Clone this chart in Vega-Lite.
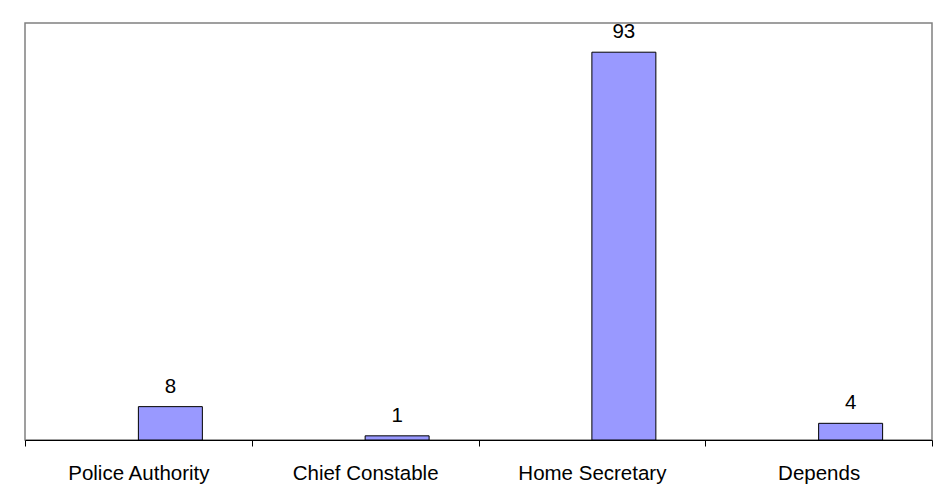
{
  "$schema": "https://vega.github.io/schema/vega-lite/v6.json",
  "width": 907,
  "height": 417,
  "autosize": "none",
  "padding": {"left": 25, "top": 23, "right": 7, "bottom": 64},
  "background": "white",
  "config": {
    "view": {"stroke": "#808080", "strokeWidth": 1.5},
    "font": "Liberation Sans"
  },
  "data": {
    "values": [
      {"category": "Police Authority", "series": "value", "value": 8},
      {"category": "Chief Constable", "series": "value", "value": 1},
      {"category": "Home Secretary", "series": "value", "value": 93},
      {"category": "Depends", "series": "value", "value": 4}
    ]
  },
  "encoding": {
    "x": {
      "field": "category",
      "type": "nominal",
      "sort": null,
      "scale": {"paddingInner": 0, "paddingOuter": 0},
      "axis": {
        "title": null,
        "tickBand": "extent",
        "domainColor": "black",
        "domainWidth": 1,
        "tickColor": "black",
        "tickWidth": 1,
        "tickSize": 6,
        "labelFontSize": 20.5,
        "labelColor": "black",
        "labelFont": "Liberation Sans",
        "labelAngle": 0,
        "labelPadding": 17
      }
    },
    "xOffset": {
      "field": "series",
      "type": "nominal",
      "scale": {"domain": ["blank", "value"], "paddingInner": 0, "paddingOuter": 0.7715}
    },
    "y": {
      "field": "value",
      "type": "quantitative",
      "scale": {"domain": [0, 100]},
      "axis": null
    }
  },
  "layer": [
    {"mark": {"type": "bar", "fill": "#9999FF", "stroke": "black", "strokeWidth": 1}},
    {
      "mark": {"type": "text", "fontSize": 20.5, "baseline": "alphabetic", "dy": -14, "color": "black", "font": "Liberation Sans"},
      "encoding": {"text": {"field": "value", "type": "quantitative"}}
    }
  ]
}
